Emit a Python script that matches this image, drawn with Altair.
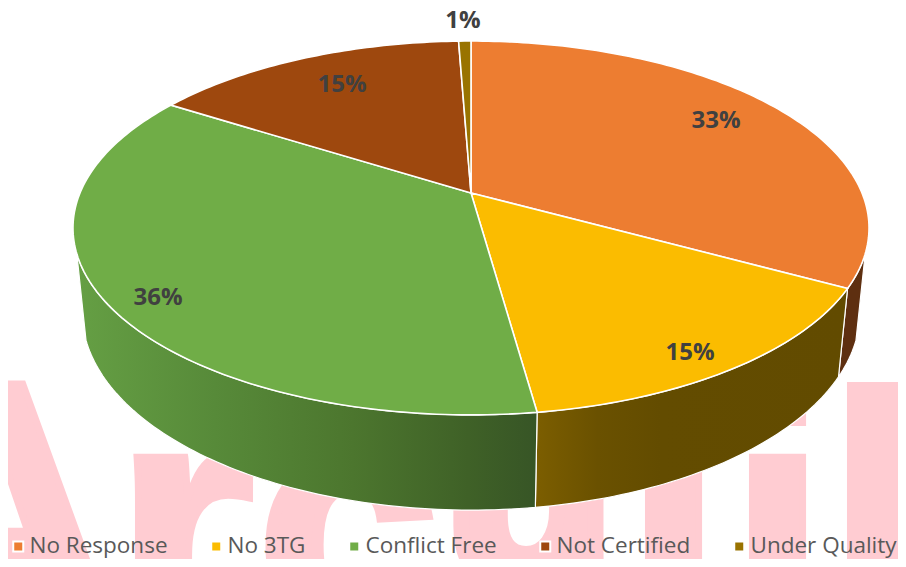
import math
import altair as alt
import pandas as pd

NAMES = ["No Response", "No 3TG", "Conflict Free", "Not Certified", "Under Quality"]
SHARES = [33.0, 14.8, 36.2, 15.4, 0.6]
LABELS = ["33%", "15%", "36%", "15%", "1%"]
TOP_COLORS = ["#ED7D31", "#FBBC00", "#70AD47", "#9E480E", "#997300"]
WATERMARK = ["A", "r", "c", "u", "i", "i", "l"]

W, H = 890, 551
CX, CY, A, B, K = 463, 185, 391, 180.4, 0.187
M, C = 0.0224, 84.5


def project(deg, r=1.0, low=False):
    a = math.radians(deg)
    u, v = r * math.sin(a), r * math.cos(a)
    w = 1 + K * v + (M if low else 0)
    return [CX + A * u / w, CY + (-B * v + (C if low else 0)) / w]


def steps(a0, a1):
    n = max(2, int((a1 - a0) / 1.0))
    return [a0 + (a1 - a0) * i / n for i in range(n + 1)]


def feature(ring, name):
    return {"type": "Feature", "properties": {"name": name},
            "geometry": {"type": "Polygon", "coordinates": [ring + [ring[0]]]}}


edges = [0.0]
for s in SHARES:
    edges.append(edges[-1] + s * 3.6)

top = [feature([[CX, CY]] + [project(t) for t in steps(edges[i], edges[i + 1])], NAMES[i])
       for i in range(len(NAMES))]


def wall(a0, a1, name):
    t = steps(a0, a1)
    return feature([project(x) for x in t] + [project(x, low=True) for x in reversed(t)], name)


PROJ = alt.Projection(type="identity", scale=1, translate=[0, 0])


def grad(stops):
    return alt.LinearGradient(gradient="linear", x1=0, x2=1, y1=0, y2=0,
                              stops=[alt.GradientStop(offset=o, color=c) for o, c in stops])


def wall_layer(a0, a1, name, fill):
    return alt.Chart(alt.Data(values=[wall(a0, a1, name)])).mark_geoshape(
        fill=fill, stroke="white", strokeWidth=1.2).project(**PROJ.to_dict())


walls = [
    wall_layer(108.5, edges[1], NAMES[0], "#5E2F10"),
    wall_layer(edges[1], edges[2], NAMES[1], grad([(0, "#7C5E00"), (0.2, "#6A5100"), (0.4, "#634C00"), (1, "#624B00")])),
    wall_layer(edges[2], 251.5, NAMES[2], grad([(0, "#659F44"), (0.3, "#578A39"), (0.6, "#4C762E"), (0.85, "#3F6127"), (1, "#375526")])),
]

tops = alt.Chart(alt.Data(values=top)).mark_geoshape(stroke="white", strokeWidth=1.6).encode(
    color=alt.Color(
        "properties.name:N",
        scale=alt.Scale(domain=NAMES, range=TOP_COLORS),
        legend=alt.Legend(
            title=None, orient="none", legendX=-1, legendY=527, direction="horizontal",
            columns=5, symbolType="square", symbolSize=100, symbolStrokeColor="white",
            symbolStrokeWidth=2, labelFont="Open Sans", labelFontSize=22.5, labelColor="#595959",
            columnPadding=37, labelOffset=0, gridAlign="each", padding=0, symbolOpacity=1,
        ),
    )
).project(**PROJ.to_dict())


def txt(s, x, y, **kw):
    return alt.Chart(pd.DataFrame({"t": [s]})).mark_text(**kw).encode(
        text="t:N", x=alt.value(x - 8), y=alt.value(y - 8))


water_spec = [(-140, 635, 365, 7), (113, 650, 365, 7), (259, 630, 320, 12), (444, 580, 280, 16),
              (623, 650, 365, 7), (727, 650, 365, 7), (825, 650, 365, 7)]
water = [txt(ch, x, b, font="Liberation Sans", fontWeight="bold", fontSize=fs, color="#FFCCD2",
             stroke="#FFCCD2", strokeWidth=sw, align="left", baseline="alphabetic")
         for ch, (x, b, fs, sw) in zip(WATERMARK, water_spec)]

label_xy = [(716, 121), (690, 353), (158, 298), (342, 85), (463, 21)]
labels = [txt(s, x, y, font="Open Sans", fontWeight="bold", fontSize=24, color="#404040",
              align="center", baseline="middle") for s, (x, y) in zip(LABELS, label_xy)]

chart = alt.layer(*water, *walls, tops, *labels).properties(
    width=W, height=H, padding=0, autosize="none", background="white"
).configure_view(stroke=None)

chart.save("out.html", embed_options={"renderer": "svg", "actions": False})
